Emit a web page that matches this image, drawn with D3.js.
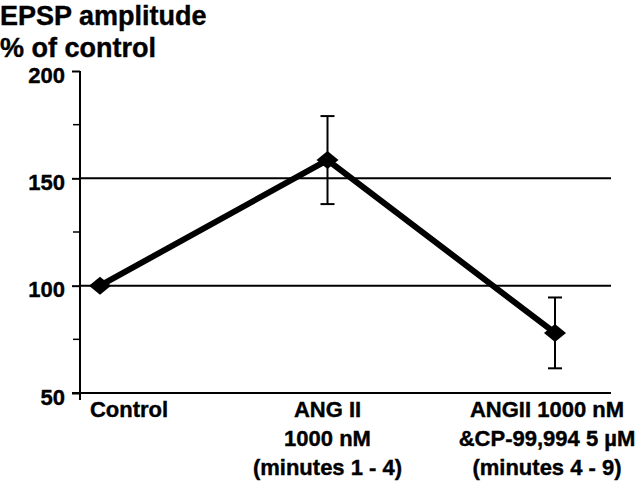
<!DOCTYPE html>
<html>
<head>
<meta charset="utf-8">
<script src="https://cdn.jsdelivr.net/npm/d3@7"></script>
<style>
  body { margin: 0; background: #fff; }
  svg { display: block; }
  text { font-family: "Liberation Sans", Arial, sans-serif; font-weight: bold; fill: #000; stroke: #000; stroke-width: 0.4px; }
</style>
</head>
<body>
<svg width="640" height="482"></svg>
<script>
// Chart data
var categories = ["Control", "ANG II", "ANGII+CP"];
var labelLines = [
    ["Control"],
    ["ANG II", "1000 nM", "(minutes 1 - 4)"],
    ["ANGII 1000 nM", "&CP-99,994 5 \u00b5M", "(minutes 4 - 9)"]
];
var means = [100, 158.5, 78];
var sem = [0, 20.5, 16.5];
var majorTicks = [50, 100, 150, 200];
var minorTicks = [75, 125, 175];
var gridValues = [100, 150];
var titleLines = ["EPSP amplitude", "% of control"];

var svg = d3.select("svg");

// Layout
var axisX = 80, axisRight = 611;
var y = d3.scaleLinear().domain([50, 200]).range([393, 71]);
var x = d3.scalePoint().domain(categories).range([100, 555]);
// label centres are a bit off the points in the original
var labelShift = [29, 0, -8];

// Title
svg.append("g").selectAll("text")
    .data(titleLines)
    .enter().append("text")
    .attr("x", 0)
    .attr("y", function(d, i) { return 25 + i * 32; })
    .style("font-size", "27px")
    .text(function(d) { return d; });

// Gridlines
svg.append("g").selectAll("line")
    .data(gridValues)
    .enter().append("line")
    .attr("x1", axisX).attr("x2", axisRight)
    .attr("y1", function(d) { return y(d); })
    .attr("y2", function(d) { return y(d); })
    .attr("stroke", "#000").attr("stroke-width", 2);

// Y axis
var yAxis = d3.axisLeft(y).tickValues(majorTicks).tickSize(8).tickPadding(7);
var gy = svg.append("g")
    .attr("transform", "translate(" + axisX + ",0)")
    .call(yAxis);
gy.select(".domain").remove();
gy.selectAll(".tick line").attr("stroke", "#000").attr("stroke-width", 2);
gy.selectAll(".tick text")
    .attr("dy", "0.5em")
    .style("font-size", "22px")
    .style("font-family", "'Liberation Sans', Arial, sans-serif")
    .style("font-weight", "bold");

gy.selectAll("line.minor")
    .data(minorTicks)
    .enter().append("line")
    .attr("class", "minor")
    .attr("x1", -7).attr("x2", 0)
    .attr("y1", function(d) { return y(d); })
    .attr("y2", function(d) { return y(d); })
    .attr("stroke", "#000").attr("stroke-width", 1.5);

svg.append("line")
    .attr("x1", axisX).attr("x2", axisX)
    .attr("y1", y(200)).attr("y2", y(50) + 7)
    .attr("stroke", "#000").attr("stroke-width", 2);

// X axis line
svg.append("line")
    .attr("x1", axisX - 8).attr("x2", axisRight)
    .attr("y1", y(50)).attr("y2", y(50))
    .attr("stroke", "#000").attr("stroke-width", 2);

// Category labels
var lab = svg.append("g").selectAll("text")
    .data(categories)
    .enter().append("text")
    .attr("text-anchor", "middle")
    .style("font-size", "22px");
lab.selectAll("tspan")
    .data(function(d, i) {
        return labelLines[i].map(function(t) { return {t: t, i: i}; });
    })
    .enter().append("tspan")
    .attr("x", function(d) { return x(categories[d.i]) + labelShift[d.i]; })
    .attr("y", function(d, j) { return 417 + j * 29; })
    .text(function(d) { return d.t; });

// Error bars
var eb = svg.append("g").selectAll("g")
    .data(categories.filter(function(c, i) { return sem[i] > 0; }))
    .enter().append("g");
eb.append("line")
    .attr("x1", function(d) { return x(d); })
    .attr("x2", function(d) { return x(d); })
    .attr("y1", function(d) { var i = categories.indexOf(d); return y(means[i] + sem[i]); })
    .attr("y2", function(d) { var i = categories.indexOf(d); return y(means[i] - sem[i]); })
    .attr("stroke", "#000").attr("stroke-width", 2);
[1, -1].forEach(function(s) {
    eb.append("line")
        .attr("x1", function(d) { return x(d) - 7; })
        .attr("x2", function(d) { return x(d) + 7; })
        .attr("y1", function(d) { var i = categories.indexOf(d); return y(means[i] + s * sem[i]); })
        .attr("y2", function(d) { var i = categories.indexOf(d); return y(means[i] + s * sem[i]); })
        .attr("stroke", "#000").attr("stroke-width", 2);
});

// Mean line
var line = d3.line()
    .x(function(d, i) { return x(categories[i]); })
    .y(function(d) { return y(d); });
svg.append("path")
    .datum(means)
    .attr("d", line)
    .attr("fill", "none")
    .attr("stroke", "#000")
    .attr("stroke-width", 6)
    .attr("stroke-linejoin", "miter");

// Diamond markers
svg.append("g").selectAll("path")
    .data(means)
    .enter().append("path")
    .attr("transform", function(d, i) { return "translate(" + x(categories[i]) + "," + y(d) + ")"; })
    .attr("d", "M0,-9L11,0L0,9L-11,0Z")
    .attr("fill", "#000");
</script>
</body>
</html>
